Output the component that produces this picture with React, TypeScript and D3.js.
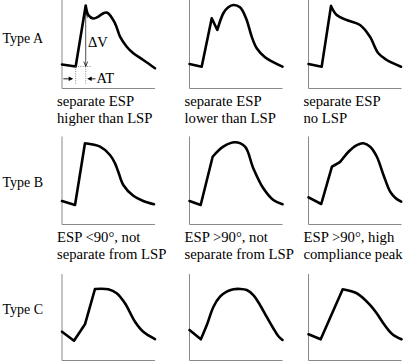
import * as d3 from 'd3'

type Pt = [number, number]

const W = 403
const H = 363
const FONT = "'Liberation Serif', 'Times New Roman', Times, serif"

// row / column labels
const ROW_LABELS = ['Type A', 'Type B', 'Type C']
const CAPTIONS_A = [['separate ESP', 'higher than LSP'], ['separate ESP', 'lower than LSP'], ['separate ESP', 'no LSP']]
const CAPTIONS_B = [['ESP <90°, not', 'separate from LSP'], ['ESP >90°, not', 'separate from LSP'], ['ESP >90°, high', 'compliance peak']]

// waveforms: [time 0-100, velocity 0-100]
const A1: Pt[] = [[0, 27.3], [14.7, 25], [25.5, 94.3], [28.3, 83.5], [33.7, 79.5], [38.7, 81.3], [43, 84.7], [48.7, 86.1], [57, 74.1], [62.4, 58.9], [69.6, 47.5], [76.7, 40], [87.4, 32.4], [100, 23]]
const A2: Pt[] = [[0, 27.8], [13.1, 24.8], [23.9, 79.8], [29.9, 66.5], [36.4, 85.5], [41.7, 92.3], [47.1, 94.9], [54.3, 92.3], [60.8, 79.8], [66.9, 58.9], [72.3, 45.7], [81.2, 35.5], [100, 24.8]]
const A3: Pt[] = [[0, 27.8], [14.2, 24.8], [24.2, 93.8], [30.3, 83.5], [41.1, 77.8], [55.4, 72.2], [66.1, 58.9], [75.1, 40], [84.1, 32.4], [99.5, 24.8]]
const B1: Pt[] = [[0, 26.7], [14, 22.2], [24.7, 92.3], [40.9, 88.4], [51.6, 79], [57, 69.5], [60.5, 60], [65.9, 44.9], [76.7, 32.7], [87.4, 26.7], [98.9, 23]]
const B2: Pt[] = [[0, 26.7], [12, 22.2], [24.9, 77], [36.3, 88.4], [48.9, 93.4], [59.7, 88.4], [68.6, 63.9], [79.4, 41.1], [90.1, 27.8], [100, 23]]
const B3: Pt[] = [[0, 30.9], [13.7, 23.3], [25.2, 65.7], [30.5, 68.8], [34.1, 71.4], [43, 82.7], [52, 90.3], [59.1, 92.3], [66.3, 88.4], [73.5, 77], [80.6, 56.3], [87.8, 37.3], [93.2, 30.5], [99.7, 25.9]]
const C1: Pt[] = [[0, 32.7], [12.9, 22.5], [24.7, 41.1], [35.5, 81.3], [49.8, 80.9], [58.8, 76.4], [67.7, 65], [78.5, 44.1], [87.4, 32.7], [100, 24.4]]
const C2: Pt[] = [[0, 34.7], [12.2, 24.1], [18.6, 40.3], [25.8, 61.1], [32.8, 72.5], [40, 78.2], [47.2, 80.9], [54.3, 81.3], [61.5, 80.1], [68.6, 74.4], [75.8, 63.1], [82.9, 49.8], [90.1, 36.6], [95.4, 27.8], [100, 23.3]]
const C3: Pt[] = [[0, 29.8], [13.1, 24.1], [36.8, 80.9], [51.8, 76.4], [58.9, 70.7], [66.1, 63.1], [73.3, 53.6], [80.4, 42.3], [85.8, 34.7], [91.2, 29], [100, 24.1]]

// indices where the trace has a sharp corner
const A_CORNERS = [[1, 2], [1, 2, 3], [1, 2]]
const B_CORNERS = [[1, 2], [1, 2], [1, 2]]
const C_CORNERS = [[1, 2, 3], [1], [1, 2]]

// annotation on the first panel (same units)
const AT_START = 14.7
const AT_END = 25.5
const DV_TOP = 86
const DV_BOTTOM = 25
const AT_LEVEL = 11

const ROWS = [
  { label: ROW_LABELS[0], curves: [A1, A2, A3], corners: A_CORNERS, captions: CAPTIONS_A },
  { label: ROW_LABELS[1], curves: [B1, B2, B3], corners: B_CORNERS, captions: CAPTIONS_B },
  { label: ROW_LABELS[2], curves: [C1, C2, C3], corners: C_CORNERS, captions: [] as string[][] },
]

const COL_X = [62, 189.5, 308.5]
const PANEL_W = 93
const PLOT_H = 88
const ROW_BOTTOM = [88.5, 224.5, 360.5]
const ROW_TOP = [0, 136.5, 274]
const LABEL_Y = [43, 187, 314]

function splitAt(pts: Pt[], corners: number[]) {
  const cuts = [0, ...corners, pts.length - 1]
  return cuts.slice(0, -1).map((c, i) => pts.slice(c, cuts[i + 1] + 1))
}

const textStyle = { fontFamily: FONT }

function Panel({ row, col }: { row: number; col: number }) {
  const r = ROWS[row]
  const left = COL_X[col]
  const bottom = ROW_BOTTOM[row]
  const x = d3.scaleLinear().domain([0, 100]).range([left, left + PANEL_W])
  const y = d3.scaleLinear().domain([0, 100]).range([bottom, bottom - PLOT_H])
  const line = d3.line<Pt>().x(d => x(d[0])).y(d => y(d[1])).curve(d3.curveCatmullRom.alpha(0.5))
  const d = splitAt(r.curves[col], r.corners[col]).map(p => line(p)).join('')
  const cap = r.captions[col]

  let notes = null
  if (row === 0 && col === 0) {
    const xs = x(AT_START)
    const xe = x(AT_END)
    const yb = y(DV_BOTTOM)
    const yt = y(DV_TOP)
    const ya = y(AT_LEVEL)
    const la = x(1.5)
    const ra = x(36)
    notes = (
      <g>
        <line x1={xe} x2={xe} y1={yt} y2={yb} stroke="#000" strokeWidth={0.7} />
        <polyline points={`${xe - 2},${yb - 5} ${xe},${yb} ${xe + 2},${yb - 5}`} fill="none" stroke="#000" strokeWidth={0.7} />
        <polyline points={`${xe - 2},${yt + 5} ${xe},${yt} ${xe + 2},${yt + 5}`} fill="none" stroke="#000" strokeWidth={0.7} />
        <line x1={xs} x2={xs} y1={yb} y2={bottom - 5} stroke="#555" strokeWidth={0.7} strokeDasharray="1,1.3" />
        <line x1={xe} x2={xe} y1={yb} y2={bottom - 5} stroke="#555" strokeWidth={0.7} strokeDasharray="1,1.3" />
        <line x1={xs} x2={x(32)} y1={yb} y2={yb} stroke="#555" strokeWidth={0.7} strokeDasharray="1,1.3" />
        <line x1={la} x2={xs - 4} y1={ya} y2={ya} stroke="#000" strokeWidth={0.9} />
        <polygon points={`${xs - 2.5},${ya} ${xs - 7},${ya - 2.3} ${xs - 7},${ya + 2.3}`} fill="#000" />
        <line x1={ra} x2={xe + 4} y1={ya} y2={ya} stroke="#000" strokeWidth={0.9} />
        <polygon points={`${xe + 1.5},${ya} ${xe + 6},${ya - 2.3} ${xe + 6},${ya + 2.3}`} fill="#000" />
        <text x={x(28)} y={y(47.2)} fontSize={14.5} style={textStyle}>ΔV</text>
        <text x={x(37)} y={y(6.6)} fontSize={14.5} style={textStyle}>AT</text>
      </g>
    )
  }

  return (
    <g>
      <line x1={left} x2={left} y1={ROW_TOP[row]} y2={bottom} stroke="#8a8a8a" strokeWidth={1} />
      <line x1={left} x2={left + PANEL_W} y1={bottom} y2={bottom} stroke="#8a8a8a" strokeWidth={1} />
      <path d={d} fill="none" stroke="#000" strokeWidth={2.6} strokeLinejoin="round" strokeLinecap="round" />
      {notes}
      {cap && cap.map((t, i) => (
        <text key={i} x={left - 5} y={bottom + 17.5 + i * 16.5} fontSize={14.7} style={textStyle}>{t}</text>
      ))}
    </g>
  )
}

export default function App() {
  return (
    <svg width={W} height={H} style={{ position: 'absolute', left: 0, top: 0, background: '#fff' }} fill="#000">
      {ROWS.map((r, ri) => (
        <g key={ri}>
          <text x={2.5} y={LABEL_Y[ri]} fontSize={14} style={textStyle}>{r.label}</text>
          {COL_X.map((_, ci) => <Panel key={ci} row={ri} col={ci} />)}
        </g>
      ))}
    </svg>
  )
}
